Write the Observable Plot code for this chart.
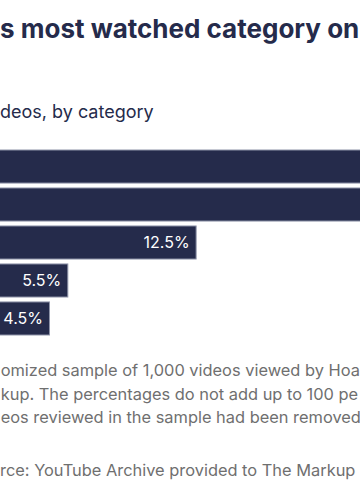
<!DOCTYPE html>
<html>
<head>
<meta charset="utf-8">
<script src="https://cdn.jsdelivr.net/npm/d3@7"></script>
<script src="https://cdn.jsdelivr.net/npm/@observablehq/plot@0.6"></script>
<style>
  html, body { margin: 0; padding: 0; width: 360px; height: 504px; overflow: hidden; background: #fff; }
  body { position: relative; font-family: Inter, "Noto Sans", sans-serif; }
  .t { position: absolute; white-space: nowrap; line-height: 1; }
  #title { left: 0px; top: 16px; font-size: 26px; font-weight: 700; color: #252b4b; }
  #subtitle { left: 0px; top: 103px; font-size: 18px; font-weight: 400; color: #252b4b; }
  .note { font-size: 16.4px; color: #6f6f6f; }
  #chart { position: absolute; left: -33.5px; top: 140px; width: 640px; }
  #chart svg { max-width: none !important; }
</style>
</head>
<body>
<div id="title" class="t"></div>
<div id="subtitle" class="t"></div>
<div id="chart"></div>
<div id="notes"></div>
<script>
const categories = ["Gaming", "Entertainment", "People & Blogs", "Comedy", "Music"];
const shares = [31.0, 27.0, 12.5, 5.5, 4.5];
const labels = ["31.0%", "27.0%", "12.5%", "5.5%", "4.5%"];
const titleText = "s most watched category on";
const subtitleText = "deos, by category";
const noteLines = [
  "omized sample of 1,000 videos viewed by Hoan",
  "kup. The percentages do not add up to 100 pe",
  "eos reviewed in the sample had been removed"
];
const sourceText = "rce: YouTube Archive provided to The Markup";

document.getElementById("title").textContent = titleText;
document.getElementById("subtitle").textContent = subtitleText;

const data = categories.map((c, i) => ({category: c, share: shares[i], label: labels[i]}));

const chart = Plot.plot({
  width: 640,
  height: 200,
  marginTop: 10,
  marginBottom: 5,
  marginLeft: 0,
  marginRight: 0,
  x: {domain: [0, 640 / 18.33], range: [0, 640], axis: null},
  y: {domain: categories, paddingInner: 0.13, paddingOuter: 0, axis: null, round: false},
  style: {fontFamily: "Inter, 'Noto Sans', sans-serif", background: "transparent", maxWidth: "none"},
  marks: [
    Plot.barX(data, {x: "share", y: "category", fill: "#252b4b", stroke: "#8e93a8", strokeWidth: 1}),
    Plot.text(data, {x: "share", y: "category", text: "label", textAnchor: "end", dx: -7, fill: "#ffffff", fontSize: 16})
  ]
});
document.getElementById("chart").appendChild(chart);

const notes = document.getElementById("notes");
const tops = [362, 385.5, 409];
noteLines.forEach((s, i) => {
  const d = document.createElement("div");
  d.className = "t note";
  d.style.left = "0.7px";
  d.style.top = tops[i] + "px";
  d.textContent = s;
  notes.appendChild(d);
});
const src = document.createElement("div");
src.className = "t note";
src.style.left = "0px";
src.style.top = "462px";
src.textContent = sourceText;
notes.appendChild(src);
</script>
</body>
</html>
